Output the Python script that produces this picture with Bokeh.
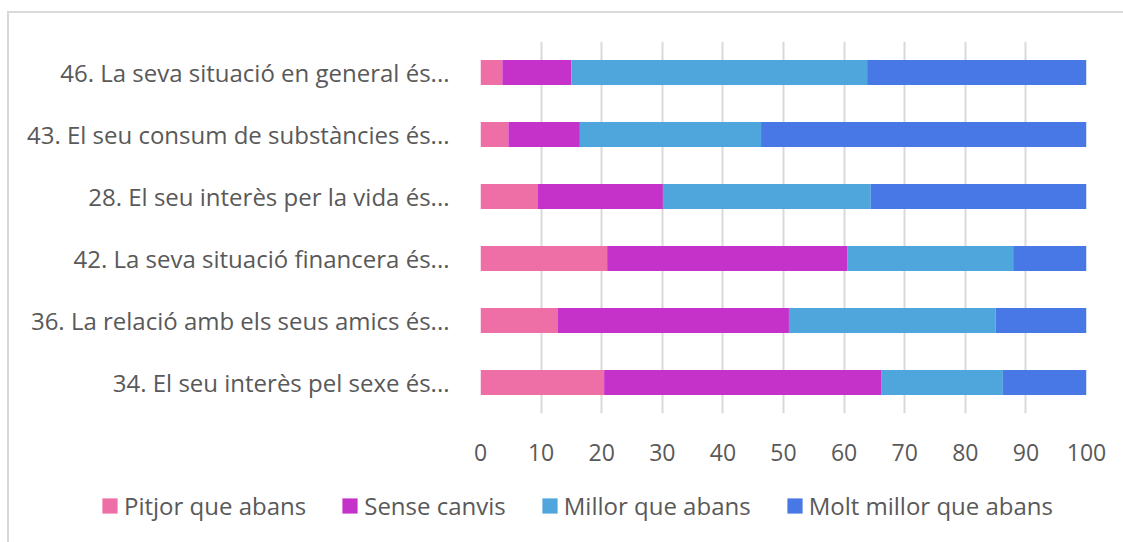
from bokeh.plotting import figure
from bokeh.layouts import column
from bokeh.models import ColumnDataSource, Legend, LegendItem, FactorRange, Range1d, FixedTicker
from bokeh.embed import file_html
from bokeh.resources import INLINE

categories = [
    "46. La seva situació en general és...",
    "43. El seu consum de substàncies és...",
    "28. El seu interès per la vida és...",
    "42. La seva situació financera és...",
    "36. La relació amb els seus amics és...",
    "34. El seu interès pel sexe és...",
]
series_names = ["Pitjor que abans", "Sense canvis", "Millor que abans", "Molt millor que abans"]
pitjor = [3.6, 4.6, 9.4, 20.9, 12.7, 20.4]
sense = [11.4, 11.8, 20.7, 39.6, 38.2, 45.8]
millor = [48.8, 29.9, 34.3, 27.4, 34.1, 20.0]
molt = [36.2, 53.7, 35.6, 12.1, 15.0, 13.8]
colors = ["#EE6FA6", "#C532C9", "#4FA6DC", "#4877E6"]
x_ticks = [0, 10, 20, 30, 40, 50, 60, 70, 80, 90, 100]

keys = ["pitjor", "sense", "millor", "molt"]
source = ColumnDataSource(dict(cat=categories, pitjor=pitjor, sense=sense, millor=millor, molt=molt))

FONT = "Open Sans"
TXT = "#595959"
W = 1114

p = figure(
    y_range=FactorRange(*list(reversed(categories))),
    x_range=Range1d(0, 100),
    width=W, height=459,
    output_backend="svg", toolbar_location=None,
    min_border_left=471, min_border_right=37, min_border_top=28, min_border_bottom=59,
)
p.outline_line_color = None

p.hbar_stack(keys, y="cat", height=0.4, color=colors, line_color=None, source=source)

p.xaxis.ticker = FixedTicker(ticks=x_ticks)
for ax in (p.xaxis[0], p.yaxis[0]):
    ax.axis_line_color = None
    ax.major_tick_line_color = None
    ax.minor_tick_line_color = None
    ax.major_label_text_font = FONT
    ax.major_label_text_color = TXT
p.yaxis.major_label_text_font_size = "24px"
p.yaxis.major_label_standoff = 25
p.xaxis.major_label_text_font_size = "23px"
p.xaxis.major_label_standoff = 24
p.ygrid.grid_line_color = None
p.xgrid.grid_line_color = "#d9d9d9"
p.xgrid.grid_line_width = 2

# legend strip
lg = figure(
    width=W, height=70, x_range=Range1d(0, 1), y_range=Range1d(0, 1),
    output_backend="svg", toolbar_location=None,
    min_border_left=0, min_border_right=0, min_border_top=0, min_border_bottom=0,
)
if "frame_align" in lg.properties():
    lg.frame_align = False
lg.outline_line_color = None
lg.axis.visible = False
lg.grid.visible = False
dummies = [lg.hbar(y=[-5], left=[0], right=[1], height=0.1, color=c, line_color=None) for c in colors]

legend = Legend(
    items=[LegendItem(label=n, renderers=[r]) for n, r in zip(series_names, dummies)],
    orientation="horizontal",
    location=(91, 20),
    glyph_width=19, glyph_height=19,
    label_standoff=5, spacing=34,
    label_text_font=FONT, label_text_font_size="24px", label_text_color=TXT,
    border_line_color=None, background_fill_alpha=0,
    padding=0, margin=0,
)
lg.add_layout(legend, "center")

layout = column(p, lg, spacing=0)
layout.styles = {"margin-left": "7px", "margin-top": "11px",
                 "border-left": "2px solid #d9d9d9", "border-top": "2px solid #d9d9d9"}

open("out.html", "w").write(file_html(layout, INLINE))
